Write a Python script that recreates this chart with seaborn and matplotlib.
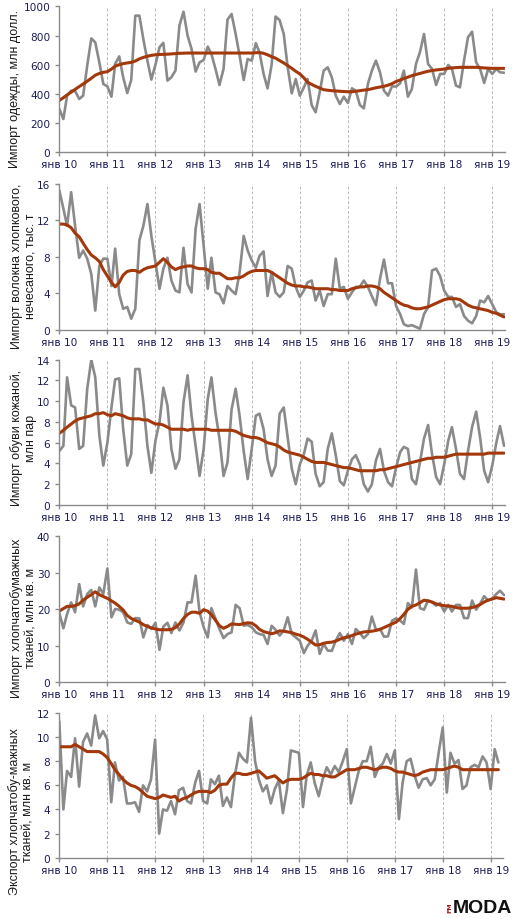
import numpy as np
import pandas as pd
import seaborn as sns
import matplotlib.pyplot as plt

# monthly data, Jan 2010 onwards
clothes = [297, 228, 388, 422, 420, 365, 388, 594, 780, 753, 616, 468,
           452, 381, 605, 657, 514, 406, 495, 936, 936, 776, 628, 498,
           600, 720, 750, 491, 514, 560, 868, 963, 799, 708, 553, 616,
           632, 724, 673, 571, 461, 571, 909, 947, 810, 662, 495, 639,
           628, 747, 685, 537, 438, 600, 930, 905, 810, 582, 404, 502,
           388, 445, 502, 324, 274, 411, 559, 582, 514, 388, 331, 381,
           338, 438, 422, 324, 301, 468, 559, 628, 548, 422, 388, 452,
           450, 473, 559, 381, 434, 605, 685, 810, 605, 571, 461, 537,
           537, 598, 571, 457, 445, 628, 788, 826, 616, 571, 475, 571,
           537, 571, 548, 545]
clothes_trend = [355, 374, 393, 412, 431, 450, 468, 487, 507, 528, 540, 548,
                 552, 570, 590, 600, 607, 612, 616, 625, 640, 650, 658, 664,
                 668, 670, 671, 672, 674, 676, 678, 679, 680, 680, 680, 680,
                 680, 680, 680, 680, 680, 680, 680, 680, 680, 680, 680, 680,
                 680, 682, 683, 678, 668, 655, 645, 628, 612, 594, 575, 555,
                 537, 510, 480, 465, 452, 440, 429, 425, 422, 420, 418, 416,
                 415, 415, 418, 422, 426, 429, 435, 442, 447, 452, 460, 470,
                 485, 495, 505, 515, 525, 533, 540, 548, 555, 560, 564, 567,
                 570, 575, 578, 580, 582, 582, 582, 582, 582, 580, 578, 576,
                 575, 575, 575, 575]

fiber = [15.3, 13.3, 11.4, 15.1, 11.4, 7.9, 8.7, 7.8, 6.1, 2.1, 7.0, 7.8,
         7.8, 4.8, 8.9, 3.9, 2.3, 2.5, 1.2, 2.3, 9.8, 11.4, 13.8, 10.3,
         7.4, 4.5, 6.7, 7.9, 5.4, 4.3, 4.1, 9.0, 5.0, 4.1, 11.1, 13.8,
         9.2, 4.5, 7.9, 4.1, 3.9, 2.9, 4.8, 4.3, 3.9, 6.3, 10.3, 8.7,
         7.6, 6.8, 8.1, 8.6, 3.7, 6.3, 4.1, 3.6, 4.1, 7.0, 6.7, 4.7,
         3.6, 4.3, 5.2, 5.4, 3.2, 4.3, 2.6, 3.9, 3.9, 7.8, 4.5, 4.7,
         3.4, 4.1, 4.7, 4.7, 5.4, 4.7, 3.7, 2.7, 5.6, 7.7, 5.1, 5.1,
         2.6, 1.7, 0.6, 0.4, 0.5, 0.3, 0.1, 1.7, 2.5, 6.5, 6.7, 5.9,
         4.3, 3.6, 3.6, 2.5, 2.8, 1.5, 1.0, 0.7, 1.5, 3.2, 3.0, 3.7,
         2.8, 1.9, 1.7, 1.7]
fiber_trend = [11.6, 11.6, 11.5, 11.2, 10.6, 10.2, 9.5, 8.8, 8.2, 7.9, 7.5, 6.6,
               5.9, 5.2, 4.7, 5.2, 6.0, 6.4, 6.5, 6.5, 6.3, 6.6, 6.8, 6.9,
               7.0, 7.4, 7.8, 7.4, 6.9, 6.6, 6.8, 6.9, 7.0, 7.0, 6.8, 6.7,
               6.7, 6.6, 6.3, 6.2, 6.2, 5.9, 5.6, 5.6, 5.7, 5.7, 5.9, 6.2,
               6.4, 6.5, 6.5, 6.5, 6.5, 6.3, 6.0, 5.7, 5.4, 5.1, 4.9, 4.8,
               4.8, 4.7, 4.7, 4.6, 4.5, 4.5, 4.5, 4.5, 4.4, 4.4, 4.3, 4.3,
               4.3, 4.5, 4.6, 4.7, 4.7, 4.8, 4.8, 4.7, 4.5, 4.1, 3.8, 3.5,
               3.2, 2.9, 2.7, 2.6, 2.4, 2.3, 2.3, 2.4, 2.5, 2.7, 2.9, 3.1,
               3.3, 3.4, 3.4, 3.4, 3.3, 3.0, 2.7, 2.5, 2.4, 2.3, 2.2, 2.1,
               1.9, 1.8, 1.6, 1.4]

shoes = [5.2, 5.7, 12.3, 9.6, 9.4, 5.4, 5.7, 11.2, 14.0, 12.3, 6.7, 3.8,
         6.0, 9.4, 12.1, 12.2, 7.3, 3.8, 4.9, 13.1, 13.1, 9.9, 5.7, 3.1,
         6.2, 8.0, 11.3, 9.6, 5.4, 3.5, 4.4, 9.9, 12.5, 8.6, 5.7, 2.8,
         5.4, 10.2, 12.3, 8.9, 6.4, 2.8, 4.1, 9.2, 11.2, 8.6, 5.2, 2.5,
         5.4, 8.6, 8.8, 7.3, 4.4, 2.8, 3.8, 8.8, 9.4, 6.5, 3.5, 2.0,
         3.9, 4.9, 6.4, 6.1, 3.0, 1.8, 2.2, 5.4, 6.9, 4.8, 2.3, 1.9,
         3.3, 4.4, 4.8, 3.9, 2.0, 1.3, 2.0, 4.3, 5.4, 3.3, 2.2, 1.8,
         3.6, 5.1, 5.6, 5.4, 2.5, 2.0, 4.1, 6.4, 7.7, 4.9, 2.7, 2.0,
         3.9, 6.2, 7.5, 5.4, 3.0, 2.5, 5.2, 7.5, 9.0, 6.5, 3.3, 2.2,
         3.8, 6.0, 7.6, 5.7]
shoes_trend = [6.9, 7.2, 7.5, 7.8, 8.1, 8.3, 8.4, 8.5, 8.6, 8.8, 8.8, 8.9,
               8.7, 8.6, 8.8, 8.7, 8.6, 8.4, 8.3, 8.3, 8.3, 8.2, 8.2, 8.0,
               7.8, 7.8, 7.7, 7.5, 7.3, 7.3, 7.3, 7.3, 7.2, 7.3, 7.3, 7.3,
               7.3, 7.3, 7.2, 7.2, 7.2, 7.2, 7.2, 7.2, 7.1, 6.9, 6.7, 6.6,
               6.5, 6.5, 6.4, 6.2, 6.0, 5.9, 5.8, 5.6, 5.3, 5.1, 5.0, 4.9,
               4.8, 4.6, 4.4, 4.2, 4.1, 4.1, 4.1, 4.0, 3.9, 3.8, 3.7, 3.6,
               3.6, 3.5, 3.4, 3.3, 3.3, 3.3, 3.3, 3.3, 3.4, 3.4, 3.5, 3.6,
               3.7, 3.8, 3.9, 4.0, 4.1, 4.2, 4.3, 4.4, 4.5, 4.5, 4.6, 4.6,
               4.6, 4.7, 4.8, 4.9, 4.9, 4.9, 4.9, 4.9, 4.9, 4.9, 4.9, 5.0,
               5.0, 5.0, 5.0, 5.0]

fabric_imp = [19.0, 14.8, 18.7, 21.9, 19.2, 26.9, 20.8, 24.2, 25.3, 20.8, 26.0, 24.2,
              31.2, 17.8, 20.1, 19.9, 19.2, 16.4, 16.0, 17.6, 17.5, 12.3, 15.7, 14.6,
              16.3, 8.9, 15.3, 16.3, 13.5, 16.4, 14.2, 16.4, 21.9, 21.9, 29.2, 19.2,
              15.1, 12.3, 20.3, 17.4, 14.6, 12.1, 13.2, 13.7, 21.2, 20.3, 15.5, 15.7,
              15.1, 13.7, 13.2, 13.0, 10.5, 15.5, 14.4, 12.8, 14.2, 17.8, 13.2, 12.3,
              11.4, 8.0, 10.0, 11.4, 14.2, 7.8, 10.5, 8.7, 8.6, 11.4, 13.5, 11.4,
              13.2, 10.5, 14.6, 13.5, 12.1, 13.2, 18.0, 14.4, 14.6, 12.5, 12.6, 16.9,
              17.5, 16.9, 16.0, 21.7, 20.5, 30.9, 20.3, 19.9, 22.4, 21.9, 21.0, 21.7,
              19.4, 21.2, 19.4, 21.2, 21.2, 17.6, 17.6, 22.4, 19.9, 21.5, 23.6, 22.4,
              23.0, 24.2, 25.1, 23.9]
fabric_imp_trend = [19.5, 20.2, 20.8, 20.8, 21.0, 21.5, 22.5, 23.3, 24.0, 24.8, 24.0, 23.5,
                    23.0, 22.3, 21.7, 20.8, 19.8, 18.3, 17.5, 17.0, 16.5, 15.8, 15.3, 14.9,
                    14.6, 14.4, 14.4, 14.4, 14.5, 15.0, 16.0, 17.5, 18.6, 19.2, 19.2, 18.9,
                    19.9, 19.5, 18.5, 17.0, 15.5, 14.8, 15.3, 16.0, 15.9, 15.8, 16.1, 16.3,
                    16.2, 15.5, 14.5, 13.9, 13.6, 13.3, 13.6, 14.1, 14.0, 13.8, 13.6, 13.2,
                    12.9, 12.4, 11.8, 11.0, 10.2, 10.3, 10.7, 10.9, 11.0, 11.3, 11.8, 12.2,
                    12.4, 12.8, 13.2, 13.5, 13.8, 13.9, 14.0, 14.2, 14.5, 15.0, 15.5, 16.0,
                    16.5, 17.5, 18.6, 20.0, 20.8, 21.2, 21.8, 22.5, 22.3, 22.0, 21.5, 21.2,
                    21.0, 20.9, 20.8, 20.5, 20.3, 20.3, 20.3, 20.5, 20.8, 21.3, 22.0, 22.5,
                    22.8, 23.2, 23.0, 22.8]

fabric_exp = [11.3, 4.0, 7.2, 6.7, 9.9, 5.9, 9.6, 10.3, 9.3, 11.8, 9.9, 10.5,
              9.8, 4.6, 7.9, 6.4, 6.7, 4.5, 4.5, 4.6, 3.8, 6.0, 5.5, 6.5,
              9.8, 2.0, 4.0, 3.9, 4.7, 3.6, 5.6, 5.8, 4.7, 4.5, 6.2, 7.2,
              4.7, 4.5, 6.5, 6.1, 6.8, 4.3, 5.0, 4.2, 6.9, 8.7, 8.2, 7.9,
              11.6, 8.0, 6.5, 5.5, 6.0, 4.5, 5.7, 6.4, 3.7, 5.6, 8.9, 8.8,
              8.7, 4.2, 6.8, 7.9, 6.2, 5.1, 6.5, 7.5, 6.9, 7.6, 7.1, 8.0,
              9.0, 4.5, 5.8, 7.2, 8.0, 8.0, 9.2, 6.7, 7.5, 7.8, 8.6, 7.8,
              8.9, 3.2, 6.2, 8.0, 8.2, 6.8, 5.8, 6.5, 6.6, 6.0, 6.5, 8.7,
              10.8, 5.4, 8.7, 7.8, 8.1, 5.7, 6.0, 7.5, 7.7, 7.5, 8.4, 7.9,
              5.7, 9.0, 7.9]
fabric_exp_trend = [9.2, 9.2, 9.2, 9.2, 9.4, 9.2, 9.0, 8.8, 8.8, 8.8, 8.8, 8.6,
                    8.3, 7.8, 7.3, 6.9, 6.5, 6.2, 6.0, 5.9, 5.7, 5.4, 5.1, 5.0,
                    4.9, 5.0, 5.2, 5.1, 5.0, 5.1, 4.7, 4.9, 5.0, 5.2, 5.4, 5.5,
                    5.5, 5.5, 5.4, 5.6, 6.0, 6.1, 6.1, 6.6, 7.0, 7.0, 6.9, 6.9,
                    7.0, 7.1, 7.2, 6.9, 6.6, 6.7, 6.8, 6.5, 6.2, 6.4, 6.5, 6.5,
                    6.5, 6.6, 6.8, 7.0, 6.9, 6.9, 6.8, 6.8, 6.7, 6.7, 6.9, 7.1,
                    7.3, 7.3, 7.3, 7.4, 7.5, 7.5, 7.4, 7.3, 7.4, 7.5, 7.5, 7.4,
                    7.2, 7.1, 7.1, 7.0, 6.9, 6.8, 6.9, 7.1, 7.2, 7.3, 7.3, 7.3,
                    7.3, 7.4, 7.5, 7.6, 7.5, 7.3, 7.3, 7.3, 7.3, 7.3, 7.3, 7.3,
                    7.3, 7.3, 7.3]

ylabels = ['Импорт одежды, млн долл.',
           'Импорт волокна хлопкового,\nнечесаного, тыс. т',
           'Импорт обуви кожаной,\nмлн пар',
           'Импорт хлопчатобумажных\nтканей, млн кв. м',
           'Экспорт хлопчатобу-мажных\nтканей, млн кв. м']
ymax = [1000, 16, 14, 40, 12]
ystep = [200, 4, 2, 10, 2]
years = list(range(2010, 2020))
xtick_labels = [f'янв {y % 100}' for y in years]

sns.set_theme(style='white')
plt.rcParams['font.family'] = ['DejaVu Sans']

gray = '#8a8a8a'
brown = '#a3380a'
tick_col = '#1c1c5a'
axis_col = '#8a8a8a'

fig = plt.figure(figsize=(5.2, 9.2), dpi=100)

# panel frames in pixels: top, bottom, right
frames = [(7.3, 153.3, 505), (185, 330.7, 505), (360.7, 506, 505),
          (537.3, 683.3, 505), (714, 858.7, 502.7)]
label_pos = [(-0.099, 0.44), (-0.080, 0.444), (-0.080, 0.465),
             (-0.080, 0.447), (-0.086, 0.326)]
series = [(clothes, clothes_trend), (fiber, fiber_trend), (shoes, shoes_trend),
          (fabric_imp, fabric_imp_trend), (fabric_exp, fabric_exp_trend)]

left_px = 59.3
start = pd.Timestamp('2010-01-01')
for i, (vals, trend) in enumerate(series):
    top, bot, right = frames[i]
    ax = fig.add_axes([left_px / 520, 1 - bot / 920, (right - left_px) / 520, (bot - top) / 920])
    df = pd.DataFrame({'date': pd.date_range(start, periods=len(vals), freq='MS'),
                       'value': vals, 'trend': trend})
    sns.lineplot(data=df, x='date', y='value', color=gray, lw=1.9, ax=ax)
    sns.lineplot(data=df, x='date', y='trend', color=brown, lw=2.2, ax=ax)

    months_span = (right - left_px) / ((492.3 - 59.3) / 108) if i < 4 else (right - left_px) / ((490.7 - 59.3) / 108)
    ax.set_xlim(start, start + pd.Timedelta(days=months_span * 30.44))
    ax.set_ylim(0, ymax[i])
    ax.set_yticks(np.arange(0, ymax[i] + 1e-9, ystep[i]))
    ax.set_xticks([pd.Timestamp(f'{y}-01-01') for y in years])
    ax.set_xticklabels(xtick_labels)
    ax.set_xlabel('')
    ax.set_ylabel('')

    ax.grid(axis='x', ls=(0, (3, 2)), color='#b8b8b8', lw=0.7)
    ax.grid(axis='y', visible=False)
    for s in ['top', 'right']:
        ax.spines[s].set_visible(False)
    for s in ['left', 'bottom']:
        ax.spines[s].set_color(axis_col)
        ax.spines[s].set_linewidth(1.0)
    ax.tick_params(axis='both', which='major', labelsize=7.6, colors=axis_col,
                   labelcolor=tick_col, length=3, width=1, direction='out',
                   left=True, bottom=True)
    ax.tick_params(axis='y', pad=3.5)
    ax.tick_params(axis='x', pad=2)

    ax.text(label_pos[i][0], label_pos[i][1], ylabels[i], transform=ax.transAxes,
            rotation=90, ha='center', va='center', multialignment='center',
            fontsize=9, family='Liberation Sans', color='#1a1a1a')

fig.text(512 / 520, 1 - 913 / 920, 'MODA', ha='right', va='baseline',
         fontsize=14, fontweight='bold', family='Liberation Sans', color='#111111')
fig.text(450 / 520, 1 - 913 / 920, 'FM', ha='center', va='bottom', rotation=90,
         fontsize=4.5, fontweight='bold', color='#a01818')

fig.savefig('out.png', dpi=100)
